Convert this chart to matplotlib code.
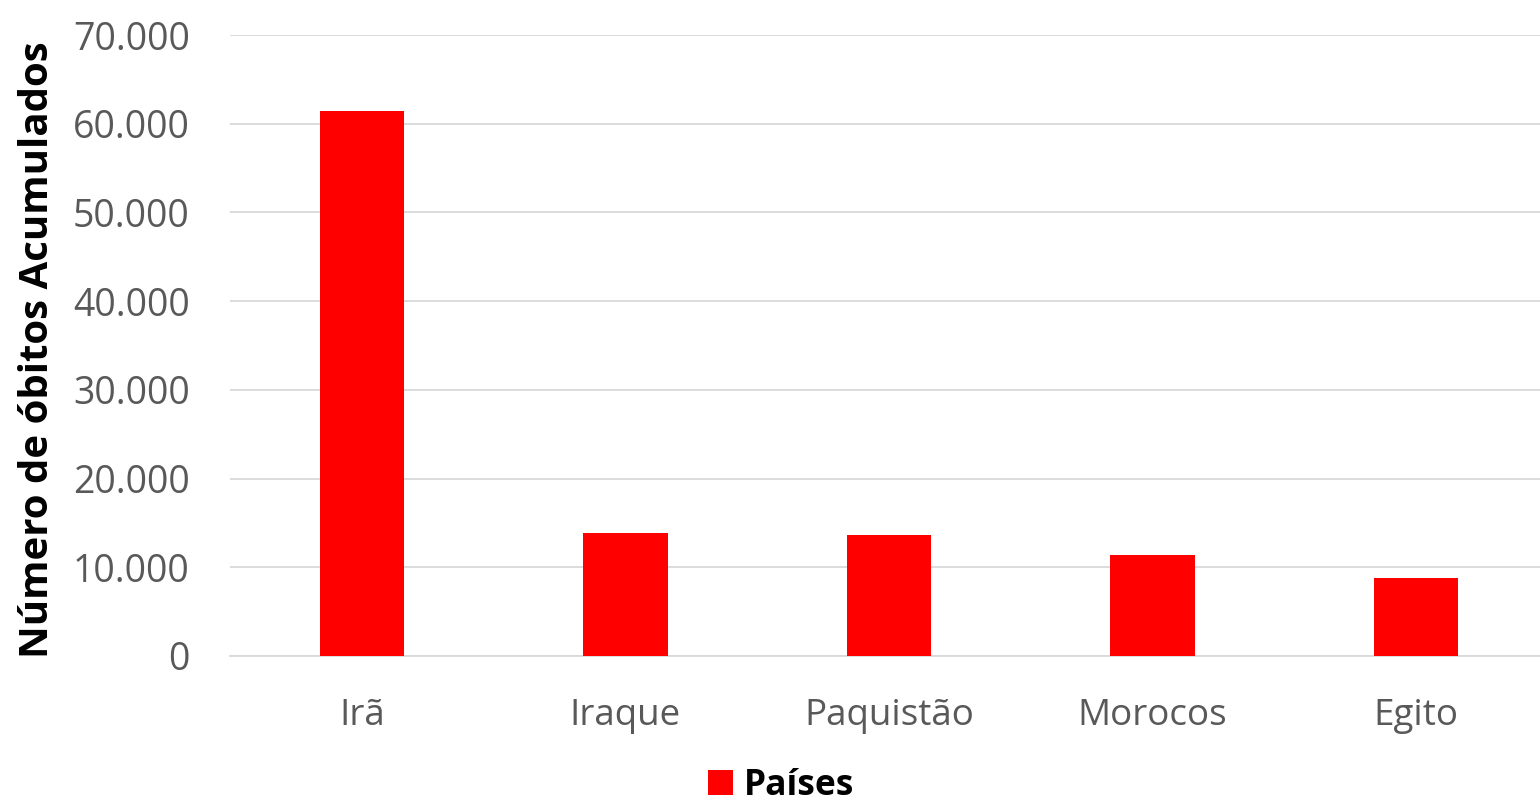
import matplotlib.pyplot as plt
from matplotlib.ticker import FuncFormatter

paises = ['Irã', 'Iraque', 'Paquistão', 'Morocos', 'Egito']
obitos = [61440, 13830, 13610, 11390, 8760]

fig = plt.figure(figsize=(15.4, 8.02), dpi=100)
ax = fig.add_axes([230/1540, 1-656/802, (1548-230)/1540, (656-35)/802])

ax.bar(range(len(paises)), obitos, width=0.32, color='#ff0000', label='Países', zorder=3)

ax.set_ylim(0, 70000)
ax.set_xlim(-0.5, 4.5)
ax.set_yticks(range(0, 70001, 10000))
ax.yaxis.set_major_formatter(FuncFormatter(lambda v, p: f'{int(v):,}'.replace(',', '.')))
ax.set_xticks(range(len(paises)))
ax.set_xticklabels(paises)
ax.grid(axis='y', color='#d9d9d9', linewidth=1.3, zorder=0)
for s in ['top', 'right', 'left']:
    ax.spines[s].set_visible(False)
ax.spines['bottom'].set_color('#d9d9d9')
ax.spines['bottom'].set_linewidth(1.3)
ax.tick_params(axis='both', length=0, labelcolor='#595959')
ax.tick_params(axis='y', pad=29, labelsize=27)
ax.tick_params(axis='x', pad=30, labelsize=26.5)
for t in ax.get_xticklabels() + ax.get_yticklabels():
    t.set_family('Open Sans')

fig.text(38/1540, 1-350/802, 'Número de óbitos Acumulados', rotation=90, ha='center', va='center',
         fontsize=29, fontweight='bold', family='Open Sans')

leg = fig.legend(loc='center', bbox_to_anchor=(781/1540, 1-786/802), frameon=False,
                 prop={'family': 'Open Sans', 'weight': 'bold', 'size': 25.5},
                 handlelength=0.7, handleheight=0.7, handletextpad=0.3)

fig.savefig('out.png', dpi=100)
